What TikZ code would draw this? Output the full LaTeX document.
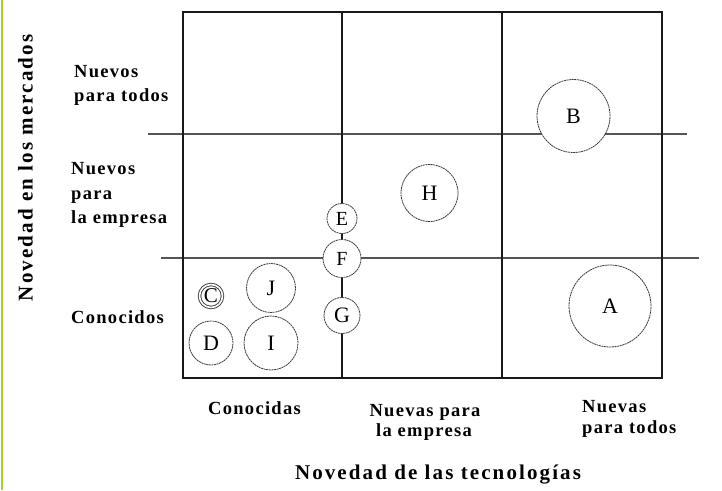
\documentclass[tikz,border=0pt]{standalone}
\usepackage{fontspec}
\setmainfont{Liberation Serif}
\newfontfamily\lblfont{Liberation Serif Bold}[LetterSpace=7]
\newfontfamily\ttlfont{Liberation Serif Bold}[LetterSpace=10]
\definecolor{yg}{RGB}{160,210,40}
\definecolor{gridgray}{RGB}{85,85,85}
\definecolor{circgray}{RGB}{60,60,60}
\tikzset{
  lbl/.style={inner sep=0pt, font={\lblfont\fontsize{18.5}{22}\selectfont}},
  ttl/.style={inner sep=0pt, font={\ttlfont\fontsize{21}{25}\selectfont}},
  bub/.style={circle, draw=circgray, line width=0.8pt, dash pattern=on 2pt off 0.6pt, fill=white, inner sep=0pt, font={\fontsize{22}{22}\selectfont}},
  sbub/.style={bub, font={\fontsize{20}{20}\selectfont}},
  frameline/.style={line width=2pt, draw=black!90},
  hline/.style={line width=1.4pt, draw=gridgray},
}
\begin{document}
\begin{tikzpicture}[x=1pt,y=-1pt]
\useasboundingbox (0,0) rectangle (722,490);
\fill[white] (0,0) rectangle (722,490);
\fill[yg] (0.5,0) rectangle (3,490);
% grid coordinates
\coordinate (h1a) at (148,134); \coordinate (h1b) at (687,134);
\coordinate (h2a) at (161,258); \coordinate (h2b) at (699,258);
\coordinate (v1a) at (342,12);  \coordinate (v1b) at (342,378);
\coordinate (v2a) at (502,12);  \coordinate (v2b) at (502,378);
\draw[hline] (h1a) -- (h1b);
\draw[hline] (h2a) -- (h2b);
\draw[frameline] (183,12) rectangle (662,378);
\draw[frameline, line width=2.5pt] (v1a) -- (v1b);
\draw[frameline, line width=1.8pt] (v2a) -- (v2b);
% bubbles
\node[bub, minimum size=73pt] (B) at (573.5,116) {B};
\node[bub, minimum size=82pt] (A) at (610,306) {A};
\node[bub, minimum size=57pt] (H) at (429.5,193) {H};
\node[sbub, minimum size=30pt] (E) at (342,218.5) {E};
\node[sbub, minimum size=38pt] (F) at (342,258.5) {F};
\node[bub, minimum size=36pt] (G) at (342,315.5) {G};
\node[bub, minimum size=49pt] (J) at (271,288) {J};
\node[bub, minimum size=54pt] (I) at (271,343) {I};
\node[bub, minimum size=44pt] (D) at (211,343) {D};
\node[circle, draw=circgray, line width=0.9pt, double, double distance=1.6pt, fill=white, inner sep=0pt, minimum size=23pt, font={\fontsize{21}{21}\selectfont}] (C) at (211,296) {C};
% row labels
\node[lbl, anchor=base west] (r1a) at (74,77) {Nuevos};
\node[lbl, anchor=base west] (r1b) at (74,101) {para todos};
\node[lbl, anchor=base west] (r2a) at (71,174) {Nuevos};
\node[lbl, anchor=base west] (r2b) at (71,199) {para};
\node[lbl, anchor=base west] (r2c) at (71,223) {la empresa};
\node[lbl, anchor=base west] (r3) at (71,323) {Conocidos};
% column labels
\node[lbl, anchor=base west] (c1) at (208,414) {Conocidas};
\node[lbl, anchor=base] (c2a) at (425,416) {Nuevas para};
\node[lbl, anchor=base] (c2b) at (424,436) {la empresa};
\node[lbl, anchor=base west] (c3a) at (582,412) {Nuevas};
\node[lbl, anchor=base west] (c3b) at (582,433) {para todos};
% axis titles
\node[ttl, anchor=base] (xt) at (438,479) {Novedad de las tecnologías};
\node[ttl, rotate=90] (yt) at (25.5,168) {Novedad en los mercados};
\end{tikzpicture}
\end{document}
